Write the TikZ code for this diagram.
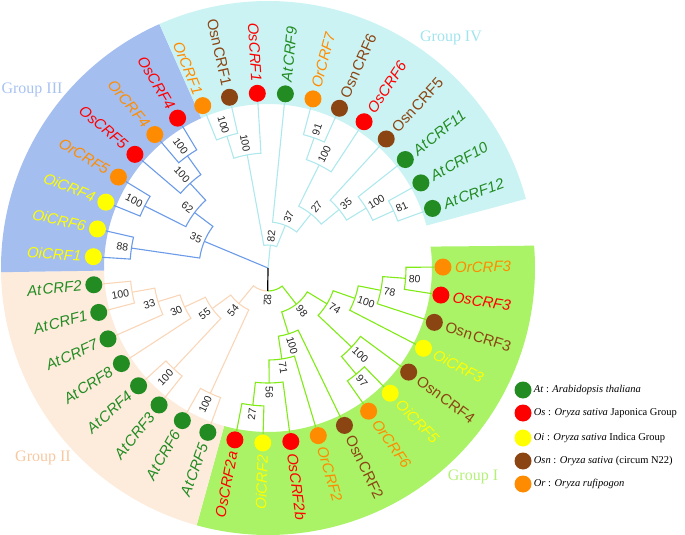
\documentclass[tikz,border=0pt]{standalone}
\usepackage{fontspec}
\setmainfont{Liberation Serif}
\setsansfont{Liberation Sans}
\definecolor{cAt}{HTML}{228B22}
\definecolor{cOs}{HTML}{FF0000}
\definecolor{cOi}{HTML}{FFFF00}
\definecolor{cOsn}{HTML}{8B4513}
\definecolor{cOr}{HTML}{FF8C00}
\definecolor{bandI}{HTML}{AAF266}
\definecolor{bandII}{HTML}{FDEBDC}
\definecolor{bandIII}{HTML}{A4BEF0}
\definecolor{bandIV}{HTML}{CCF3F3}
\definecolor{brI}{HTML}{7FEA14}
\definecolor{brII}{HTML}{FAD6B8}
\definecolor{brIII}{HTML}{6B9BE8}
\definecolor{brIV}{HTML}{AEE8EC}
\definecolor{gI}{HTML}{B4F078}
\definecolor{gII}{HTML}{F7C8A0}
\definecolor{gIII}{HTML}{A8C2F2}
\definecolor{gIV}{HTML}{A0E4EE}
\newcommand\leaffont{\sffamily\itshape\fontsize{15}{18}\selectfont}
\newcommand\bsfont{\sffamily\fontsize{10.5}{12}\selectfont}
\tikzset{
  leaf/.style={circle,inner sep=0pt,minimum size=17pt},
  lbr/.style={anchor=west,rotate=#1,inner sep=2pt,font=\leaffont},
  lbl/.style={anchor=east,rotate=#1,inner sep=2pt,font=\leaffont},
  bsr/.style={anchor=west,rotate=#1,inner sep=1pt,font=\bsfont,text=black!85},
  bsl/.style={anchor=east,rotate=#1,inner sep=1pt,font=\bsfont,text=black!85},
  br1/.style={draw=brI,line width=1.1pt},
  br2/.style={draw=brII,line width=1.1pt},
  br3/.style={draw=brIII,line width=1.1pt},
  br4/.style={draw=brIV,line width=1.1pt},
  grp/.style={font=\fontsize{16}{19}\selectfont},
  lgd/.style={anchor=west,inner sep=2pt,font=\fontsize{10.5}{12}\selectfont}
}
\begin{document}
\begin{tikzpicture}[x=1pt,y=1pt]
\useasboundingbox (-268,-267) rectangle (417,268);

\begin{scope}
\clip (-268,-267) rectangle (417,268);
\fill[bandI] (7.5:164) arc[start angle=7.5,end angle=-105.5,radius=164] -- (-105.5:267) arc[start angle=-105.5,end angle=4.8,radius=267] -- cycle;
\fill[bandII] (-105.5:164) arc[start angle=-105.5,end angle=-179.1,radius=164] -- (-179.1:267) arc[start angle=-179.1,end angle=-105.5,radius=267] -- cycle;
\fill[bandIII] (-179.1:164) arc[start angle=-179.1,end angle=-246,radius=164] -- (-246:267) arc[start angle=-246,end angle=-179.1,radius=267] -- cycle;
\fill[bandIV] (-246:164) arc[start angle=-246,end angle=-345,radius=164] -- (-345:267) arc[start angle=-345,end angle=-246,radius=267] -- cycle;
\end{scope}

\node[grp,text=gI] (gI) at (205,-209) {Group I};
\node[grp,text=gII] (gII) at (-225,-190) {Group II};
\node[grp,text=gIII] (gIII) at (-236,178) {Group III};
\node[grp,text=gIV] (gIV) at (183,230) {Group IV};

% leaves
\node[leaf,fill=cOr] (d0) at (0.3:175) {};
\node[lbr=0.3,text=cOr] (t0) at (0.3:185) {OrCRF3};
\node[leaf,fill=cOs] (d1) at (-8.9:175) {};
\node[lbr=-8.9,text=cOs] (t1) at (-8.9:185) {OsCRF3};
\node[leaf,fill=cOsn] (d2) at (-18.1:175) {};
\node[lbr=-18.1,text=cOsn] (t2) at (-18.1:185) {\upshape Osn\kern1.5pt CRF3};
\node[leaf,fill=cOi] (d3) at (-27.3:175) {};
\node[lbr=-27.3,text=cOi] (t3) at (-27.3:185) {OiCRF3};
\node[leaf,fill=cOsn] (d4) at (-36.5:175) {};
\node[lbr=-36.5,text=cOsn] (t4) at (-36.5:185) {\upshape Osn\kern1.5pt CRF4};
\node[leaf,fill=cOi] (d5) at (-45.7:175) {};
\node[lbr=-45.7,text=cOi] (t5) at (-45.7:185) {OiCRF5};
\node[leaf,fill=cOr] (d6) at (-54.9:175) {};
\node[lbr=-54.9,text=cOr] (t6) at (-54.9:185) {OrCRF6};
\node[leaf,fill=cOsn] (d7) at (-64.1:175) {};
\node[lbr=-64.1,text=cOsn] (t7) at (-64.1:185) {\upshape Osn\kern1.5pt CRF2};
\node[leaf,fill=cOr] (d8) at (-73.3:175) {};
\node[lbr=-73.3,text=cOr] (t8) at (-73.3:185) {OrCRF2};
\node[leaf,fill=cOs] (d9) at (-82.5:175) {};
\node[lbr=-82.5,text=cOs] (t9) at (-82.5:185) {OsCRF2b};
\node[leaf,fill=cOi] (d10) at (-91.7:175) {};
\node[lbl=88.3,text=cOi] (t10) at (-91.7:185) {OiCRF2};
\node[leaf,fill=cOs] (d11) at (-100.9:175) {};
\node[lbl=79.1,text=cOs] (t11) at (-100.9:185) {OsCRF2a};
\node[leaf,fill=cAt] (d12) at (-110.1:175) {};
\node[lbl=69.9,text=cAt] (t12) at (-110.1:185) {At\kern1.5pt CRF5};
\node[leaf,fill=cAt] (d13) at (-119.3:175) {};
\node[lbl=60.7,text=cAt] (t13) at (-119.3:185) {At\kern1.5pt CRF6};
\node[leaf,fill=cAt] (d14) at (-128.5:175) {};
\node[lbl=51.5,text=cAt] (t14) at (-128.5:185) {At\kern1.5pt CRF3};
\node[leaf,fill=cAt] (d15) at (-137.7:175) {};
\node[lbl=42.3,text=cAt] (t15) at (-137.7:185) {At\kern1.5pt CRF4};
\node[leaf,fill=cAt] (d16) at (-146.9:175) {};
\node[lbl=33.1,text=cAt] (t16) at (-146.9:185) {At\kern1.5pt CRF8};
\node[leaf,fill=cAt] (d17) at (-156.1:175) {};
\node[lbl=23.9,text=cAt] (t17) at (-156.1:185) {At\kern1.5pt CRF7};
\node[leaf,fill=cAt] (d18) at (-165.3:175) {};
\node[lbl=14.7,text=cAt] (t18) at (-165.3:185) {At\kern1.5pt CRF1};
\node[leaf,fill=cAt] (d19) at (-174.5:175) {};
\node[lbl=5.5,text=cAt] (t19) at (-174.5:185) {At\kern1.5pt CRF2};
\node[leaf,fill=cOi] (d20) at (-183.7:175) {};
\node[lbl=-3.7,text=cOi] (t20) at (-183.7:185) {OiCRF1};
\node[leaf,fill=cOi] (d21) at (-192.9:175) {};
\node[lbl=-12.9,text=cOi] (t21) at (-192.9:185) {OiCRF6};
\node[leaf,fill=cOi] (d22) at (-202.1:175) {};
\node[lbl=-22.1,text=cOi] (t22) at (-202.1:185) {OiCRF4};
\node[leaf,fill=cOr] (d23) at (-211.3:175) {};
\node[lbl=-31.3,text=cOr] (t23) at (-211.3:185) {OrCRF5};
\node[leaf,fill=cOs] (d24) at (-220.5:175) {};
\node[lbl=-40.5,text=cOs] (t24) at (-220.5:185) {OsCRF5};
\node[leaf,fill=cOr] (d25) at (-229.7:175) {};
\node[lbl=-49.7,text=cOr] (t25) at (-229.7:185) {OrCRF4};
\node[leaf,fill=cOs] (d26) at (-238.9:175) {};
\node[lbl=-58.9,text=cOs] (t26) at (-238.9:185) {OsCRF4};
\node[leaf,fill=cOr] (d27) at (-248.1:175) {};
\node[lbl=-68.1,text=cOr] (t27) at (-248.1:185) {OrCRF1};
\node[leaf,fill=cOsn] (d28) at (-257.3:175) {};
\node[lbl=-77.3,text=cOsn] (t28) at (-257.3:185) {\upshape Osn\kern1.5pt CRF1};
\node[leaf,fill=cOs] (d29) at (-266.5:175) {};
\node[lbl=-86.5,text=cOs] (t29) at (-266.5:185) {OsCRF1};
\node[leaf,fill=cAt] (d30) at (-275.7:175) {};
\node[lbr=84.3,text=cAt] (t30) at (-275.7:185) {At\kern1.5pt CRF9};
\node[leaf,fill=cOr] (d31) at (-284.9:175) {};
\node[lbr=75.1,text=cOr] (t31) at (-284.9:185) {OrCRF7};
\node[leaf,fill=cOsn] (d32) at (-294.1:175) {};
\node[lbr=65.9,text=cOsn] (t32) at (-294.1:185) {\upshape Osn\kern1.5pt CRF6};
\node[leaf,fill=cOs] (d33) at (-303.3:175) {};
\node[lbr=56.7,text=cOs] (t33) at (-303.3:185) {OsCRF6};
\node[leaf,fill=cOsn] (d34) at (-312.5:175) {};
\node[lbr=47.5,text=cOsn] (t34) at (-312.5:185) {\upshape Osn\kern1.5pt CRF5};
\node[leaf,fill=cAt] (d35) at (-321.7:175) {};
\node[lbr=38.3,text=cAt] (t35) at (-321.7:185) {At\kern1.5pt CRF11};
\node[leaf,fill=cAt] (d36) at (-330.9:175) {};
\node[lbr=29.1,text=cAt] (t36) at (-330.9:185) {At\kern1.5pt CRF10};
\node[leaf,fill=cAt] (d37) at (-340.1:175) {};
\node[lbr=19.9,text=cAt] (t37) at (-340.1:185) {At\kern1.5pt CRF12};

% inner nodes
\coordinate (n0) at (0,0);
\coordinate (n80) at (-4.3:138);
\coordinate (n78) at (-11.2:115);
\coordinate (n100i) at (-19.25:92);
\coordinate (n97) at (-50.3:138);
\coordinate (n100j) at (-43.4:115);
\coordinate (n74) at (-31.3:69);
\coordinate (n27i) at (-96.3:138);
\coordinate (n56) at (-89.4:115);
\coordinate (n71) at (-81.35:92);
\coordinate (n100k) at (-72.7:69);
\coordinate (n98) at (-52:46);
\coordinate (n82b) at (-90.7:23);
\coordinate (nf) at (-169.9:138);
\coordinate (n33) at (-163:115);
\coordinate (n30) at (-154.95:92);
\coordinate (ng) at (-133.1:138);
\coordinate (n55) at (-144:69);
\coordinate (nh) at (-114.7:138);
\coordinate (n54) at (-129.35:46);
\coordinate (nc) at (-234.3:138);
\coordinate (nd) at (-227.4:115);
\coordinate (ne) at (-206.7:138);
\coordinate (n62) at (-217.05:92);
\coordinate (n88) at (-188.3:138);
\coordinate (n35iii) at (-202.7:69);
\coordinate (na) at (-252.7:138);
\coordinate (nb) at (-259.6:115);
\coordinate (n91) at (-289.5:138);
\coordinate (n100b) at (-296.4:115);
\coordinate (n81) at (-335.5:138);
\coordinate (n100c) at (-328.6:115);
\coordinate (n35) at (-320.55:92);
\coordinate (n27) at (-308.5:69);
\coordinate (n37) at (-292.1:46);
\coordinate (n82) at (-275.85:23);

% group I
\draw[br1] (d0) -- (0.3:138) arc[start angle=0.3,end angle=-8.9,radius=138] -- (d1);
\draw[br1] (n80) -- (-4.3:115) arc[start angle=-4.3,end angle=-18.1,radius=115] -- (d2);
\draw[br1] (n78) -- (-11.2:92) arc[start angle=-11.2,end angle=-27.3,radius=92] -- (d3);
\draw[br1] (d5) -- (-45.7:138) arc[start angle=-45.7,end angle=-54.9,radius=138] -- (d6);
\draw[br1] (d4) -- (-36.5:115) arc[start angle=-36.5,end angle=-50.3,radius=115] -- (n97);
\draw[br1] (n100i) -- (-19.25:69) arc[start angle=-19.25,end angle=-43.4,radius=69] -- (n100j);
\draw[br1] (d10) -- (-91.7:138) arc[start angle=-91.7,end angle=-100.9,radius=138] -- (d11);
\draw[br1] (d9) -- (-82.5:115) arc[start angle=-82.5,end angle=-96.3,radius=115] -- (n27i);
\draw[br1] (d8) -- (-73.3:92) arc[start angle=-73.3,end angle=-89.4,radius=92] -- (n56);
\draw[br1] (d7) -- (-64.1:69) arc[start angle=-64.1,end angle=-81.35,radius=69] -- (n71);
\draw[br1] (n74) -- (-31.3:46) arc[start angle=-31.3,end angle=-72.7,radius=46] -- (n100k);
\draw[br1] (n98) -- (-52:23) arc[start angle=-52,end angle=-90.7,radius=23];
% group II
\draw[br2] (d18) -- (-165.3:138) arc[start angle=-165.3,end angle=-174.5,radius=138] -- (d19);
\draw[br2] (d17) -- (-156.1:115) arc[start angle=-156.1,end angle=-169.9,radius=115] -- (nf);
\draw[br2] (d16) -- (-146.9:92) arc[start angle=-146.9,end angle=-163,radius=92] -- (n33);
\draw[br2] (d14) -- (-128.5:138) arc[start angle=-128.5,end angle=-137.7,radius=138] -- (d15);
\draw[br2] (ng) -- (-133.1:69) arc[start angle=-133.1,end angle=-154.95,radius=69] -- (n30);
\draw[br2] (d12) -- (-110.1:138) arc[start angle=-110.1,end angle=-119.3,radius=138] -- (d13);
\draw[br2] (nh) -- (-114.7:46) arc[start angle=-114.7,end angle=-144,radius=46] -- (n55);
\draw[br2] (n82b) arc[start angle=-90.7,end angle=-129.35,radius=23] -- (n54);
% group III
\draw[br3] (d25) -- (-229.7:138) arc[start angle=-229.7,end angle=-238.9,radius=138] -- (d26);
\draw[br3] (d24) -- (-220.5:115) arc[start angle=-220.5,end angle=-234.3,radius=115] -- (nc);
\draw[br3] (d22) -- (-202.1:138) arc[start angle=-202.1,end angle=-211.3,radius=138] -- (d23);
\draw[br3] (ne) -- (-206.7:92) arc[start angle=-206.7,end angle=-227.4,radius=92] -- (nd);
\draw[br3] (d20) -- (-183.7:138) arc[start angle=-183.7,end angle=-192.9,radius=138] -- (d21);
\draw[br3] (n88) -- (-188.3:69) arc[start angle=-188.3,end angle=-217.05,radius=69] -- (n62);
\draw[br3] (n0) -- (n35iii);
% group IV
\draw[br4] (d27) -- (-248.1:138) arc[start angle=-248.1,end angle=-257.3,radius=138] -- (d28);
\draw[br4] (na) -- (-252.7:115) arc[start angle=-252.7,end angle=-266.5,radius=115] -- (d29);
\draw[br4] (d31) -- (-284.9:138) arc[start angle=-284.9,end angle=-294.1,radius=138] -- (d32);
\draw[br4] (n91) -- (-289.5:115) arc[start angle=-289.5,end angle=-303.3,radius=115] -- (d33);
\draw[br4] (d36) -- (-330.9:138) arc[start angle=-330.9,end angle=-340.1,radius=138] -- (d37);
\draw[br4] (d35) -- (-321.7:115) arc[start angle=-321.7,end angle=-335.5,radius=115] -- (n81);
\draw[br4] (d34) -- (-312.5:92) arc[start angle=-312.5,end angle=-328.6,radius=92] -- (n100c);
\draw[br4] (n100b) -- (-296.4:69) arc[start angle=-296.4,end angle=-320.55,radius=69] -- (n35);
\draw[br4] (d30) -- (-275.7:46) arc[start angle=-275.7,end angle=-308.5,radius=46] -- (n27);
\draw[br4] (nb) -- (-259.6:23) arc[start angle=-259.6,end angle=-292.1,radius=23] -- (n37);
\draw[br4] (n0) -- (n82);
\draw[line width=1.2pt] (n0) -- (n82b);

% bootstrap values
\node[bsr=-4.3] (b80) at (-4.3:140) {80};
\node[bsr=-11.2] (b78) at (-11.2:117) {78};
\node[bsr=-19.25] (b100i) at (-19.25:94) {100};
\node[bsr=-50.3] (b97) at (-50.3:140) {97};
\node[bsr=-43.4] (b100j) at (-43.4:117) {100};
\node[bsr=-31.3] (b74) at (-31.3:71) {74};
\node[bsl=83.7] (b27i) at (-96.3:140) {27};
\node[bsr=-89.4] (b56) at (-89.4:117) {56};
\node[bsr=-81.35] (b71) at (-81.35:94) {71};
\node[bsr=-72.7] (b100k) at (-72.7:71) {100};
\node[bsr=-52] (b98) at (-52:48) {98};
\node[bsr=-90.7] (b82b) at (-90.7:25) {82};
\node[bsl=10.1] (bf) at (-169.9:140) {100};
\node[bsl=17] (b33) at (-163:117) {33};
\node[bsl=25.05] (b30) at (-154.95:94) {30};
\node[bsl=46.9] (bg) at (-133.1:140) {100};
\node[bsl=36] (b55) at (-144:71) {55};
\node[bsl=65.3] (bh) at (-114.7:140) {100};
\node[bsl=50.65] (b54) at (-129.35:48) {54};
\node[bsl=-54.3] (bc) at (-234.3:140) {100};
\node[bsl=-47.4] (bd) at (-227.4:117) {100};
\node[bsl=-26.7] (be) at (-206.7:140) {100};
\node[bsl=-37.05] (b62) at (-217.05:94) {62};
\node[bsl=-8.3] (b88) at (-188.3:140) {88};
\node[bsl=-22.7] (b35iii) at (-202.7:71) {35};
\node[bsl=-72.7] (ba) at (-252.7:140) {100};
\node[bsl=-79.6] (bb) at (-259.6:117) {100};
\node[bsr=70.5] (b91) at (-289.5:140) {91};
\node[bsr=63.6] (b100b) at (-296.4:117) {100};
\node[bsr=24.5] (b81) at (-335.5:140) {81};
\node[bsr=31.4] (b100c) at (-328.6:117) {100};
\node[bsr=39.45] (b35) at (-320.55:94) {35};
\node[bsr=51.5] (b27) at (-308.5:71) {27};
\node[bsr=67.9] (b37) at (-292.1:48) {37};
\node[bsr=84.15] (b82) at (-275.85:25) {82};

% legend
\node[leaf,fill=cAt] (k1) at (255,-122) {};
\node[lgd] (k1t) at (k1.east) {\textit{At} : \textit{Arabidopsis thaliana}};
\node[leaf,fill=cOs] (k2) at (255,-145) {};
\node[lgd] (k2t) at (k2.east) {\textit{Os} : \textit{Oryza sativa} Japonica Group};
\node[leaf,fill=cOi] (k3) at (255,-170) {};
\node[lgd] (k3t) at (k3.east) {\textit{Oi} : \textit{Oryza sativa} Indica Group};
\node[leaf,fill=cOsn] (k4) at (255,-193) {};
\node[lgd] (k4t) at (k4.east) {\textit{Osn} : \textit{Oryza sativa} (circum N22)};
\node[leaf,fill=cOr] (k5) at (255,-216) {};
\node[lgd] (k5t) at (k5.east) {\textit{Or} : \textit{Oryza rufipogon}};
\end{tikzpicture}
\end{document}
